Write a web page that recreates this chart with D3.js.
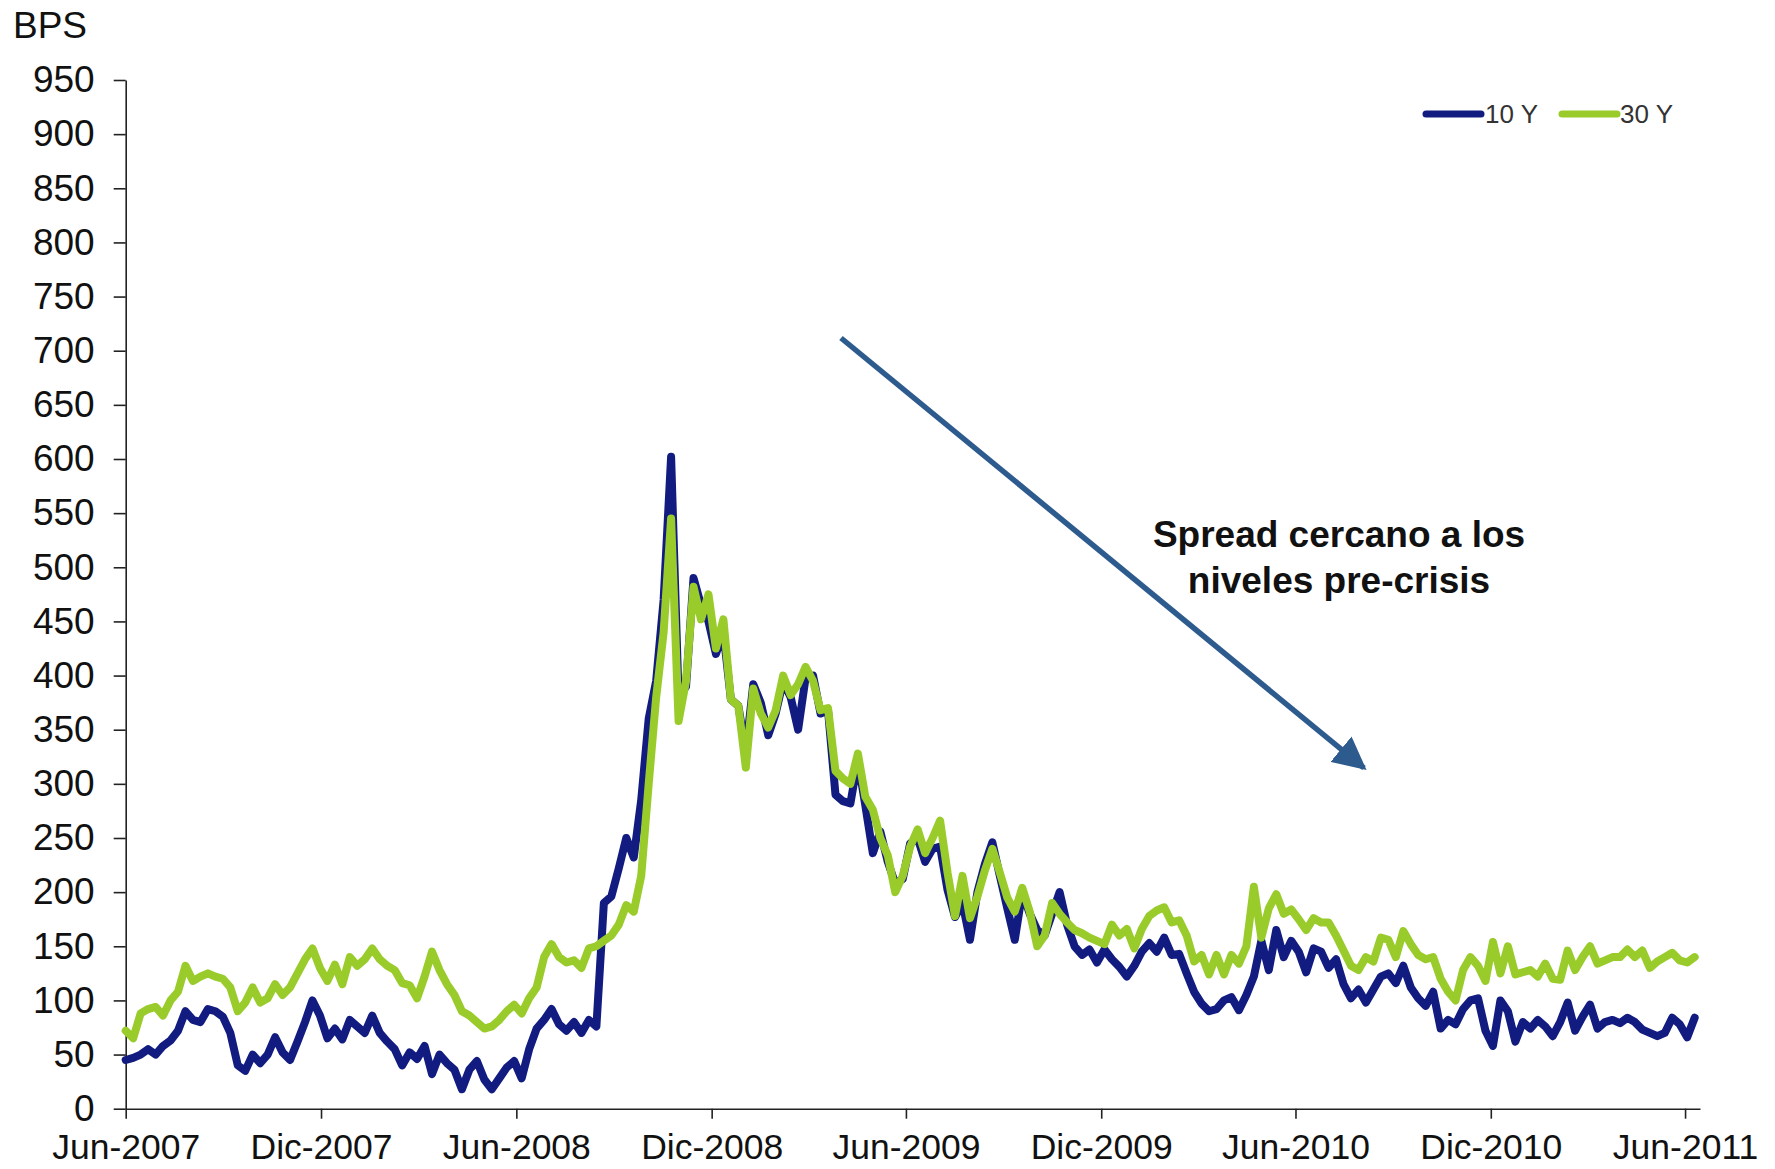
<!DOCTYPE html>
<html>
<head>
<meta charset="utf-8">
<script src="https://cdn.jsdelivr.net/npm/d3@7"></script>
<style>
  html, body { margin: 0; padding: 0; background: #ffffff; }
  svg { display: block; font-family: "Liberation Sans", Arial, sans-serif; }
</style>
</head>
<body>
<svg id="chart" width="1775" height="1169"></svg>
<script>
// ---- DATA (weekly observations, starting 1 Jun 2007) ----
const seriesNames = ["10 Y", "30 Y"];
const seriesColors = ["#111b80", "#99cc2b"];
const firstWeek = "2007-06-01";

const spread10Y = [
  45, 47, 50, 55, 50, 58, 63, 72, 90, 82, 80, 92, 90, 85, 70, 40, 35, 50, 42, 50,
  66, 52, 45, 62, 80, 100, 86, 65, 74, 64, 82, 76, 70, 86, 70, 62, 55, 40, 52, 46,
  58, 32, 50, 42, 36, 18, 36, 44, 27, 18, 28, 38, 44, 28, 55, 74, 82, 92, 78, 72,
  80, 70, 82, 76, 190, 196, 222, 250, 232, 285, 360, 395, 470, 602, 380, 390, 490, 465, 450, 420,
  440, 378, 372, 330, 392, 375, 345, 365, 395, 380, 350, 398, 400, 365, 368, 290, 284, 282, 322, 280,
  236, 256, 228, 208, 212, 245, 250, 228, 240, 242, 202, 177, 190, 156, 200, 226, 246, 215, 185, 156,
  200, 180, 165, 160, 180, 200, 170, 150, 142, 147, 135, 147, 138, 131, 122, 132, 145, 153, 145, 158,
  142, 143, 125, 108, 97, 90, 92, 100, 103, 91, 105, 122, 155, 128, 165, 140, 155, 145, 126, 148,
  145, 130, 138, 115, 102, 110, 98, 110, 122, 125, 116, 132, 112, 102, 95, 108, 74, 82, 78, 92,
  100, 102, 72, 58, 100, 90, 62, 80, 74, 82, 76, 67, 80, 98, 72, 85, 96, 74, 80, 82,
  79, 84, 80, 73, 70, 67, 70, 84, 78, 66, 84
];

const spread30Y = [
  72, 65, 88, 92, 94, 86, 100, 108, 132, 118, 122, 125, 122, 120, 112, 90, 98, 112, 98, 102,
  115, 105, 112, 125, 138, 148, 130, 118, 133, 115, 140, 132, 138, 148, 138, 132, 128, 116, 114, 102,
  122, 145, 128, 115, 105, 90, 86, 80, 74, 76, 82, 90, 96, 88, 102, 112, 140, 152, 140, 135,
  137, 130, 148, 150, 155, 160, 170, 188, 182, 215, 300, 380, 440, 545, 358, 395, 482, 452, 475, 425,
  452, 378, 372, 315, 388, 365, 352, 368, 400, 382, 392, 408, 395, 368, 370, 312, 305, 300, 328, 288,
  276, 250, 234, 200, 215, 242, 258, 236, 250, 266, 218, 178, 215, 176, 196, 220, 240, 218, 195, 182,
  204, 182, 150, 160, 190, 180, 172, 165, 162, 158, 155, 152, 170, 160, 166, 148, 166, 178, 183, 186,
  172, 174, 160, 136, 142, 124, 142, 124, 142, 134, 150, 205, 158, 185, 198, 180, 184, 175, 165, 176,
  172, 172, 160, 146, 132, 128, 140, 136, 158, 156, 140, 164, 152, 142, 138, 140, 120, 108, 100, 128,
  140, 132, 118, 154, 125, 150, 124, 126, 128, 122, 134, 120, 119, 146, 128, 140, 150, 134, 137, 140,
  140, 147, 140, 146, 130, 136, 140, 144, 137, 135, 140
];

const yTickValues = [0, 50, 100, 150, 200, 250, 300, 350, 400, 450, 500, 550, 600, 650, 700, 750, 800, 850, 900, 950];
const xTickDates = ["2007-06-01", "2007-12-01", "2008-06-01", "2008-12-01", "2009-06-01", "2009-12-01", "2010-06-01", "2010-12-01", "2011-06-01"];
const xTickLabels = ["Jun-2007", "Dic-2007", "Jun-2008", "Dic-2008", "Jun-2009", "Dic-2009", "Jun-2010", "Dic-2010", "Jun-2011"];
const xDomain = ["2007-06-01", "2011-06-15"];
const yDomain = [0, 950];
const unitLabel = "BPS";
const annotationLines = ["Spread cercano a los", "niveles pre-crisis"];

(function () {
// ---- LAYOUT ----
const parse = d3.timeParse("%Y-%m-%d");
const svg = d3.select("#chart");
const plotLeft = 125.7, plotRight = 1700, plotTop = 80, plotBottom = 1108.7;

const x = d3.scaleTime().domain(xDomain.map(parse)).range([plotLeft, plotRight]);
const y = d3.scaleLinear().domain(yDomain).range([plotBottom, plotTop]);

const start = parse(firstWeek);
const makeRows = vals => vals.map((v, i) => ({ date: d3.timeDay.offset(start, 7 * i), value: v }));
const rows = [makeRows(spread10Y), makeRows(spread30Y)];

// ---- AXES ----
const yAxis = d3.axisLeft(y).tickValues(yTickValues).tickSize(12).tickPadding(19).tickSizeOuter(0);
const gy = svg.append("g").attr("transform", `translate(${plotLeft},0)`).call(yAxis);
gy.selectAll("text").attr("font-size", 37).attr("fill", "#111").attr("font-family", "Liberation Sans, Arial, sans-serif");

const xAxis = d3.axisBottom(x)
  .tickValues(xTickDates.map(parse))
  .tickFormat((d, i) => xTickLabels[i])
  .tickSize(10).tickPadding(15).tickSizeOuter(0);
const gx = svg.append("g").attr("transform", `translate(0,${plotBottom})`).call(xAxis);
gx.selectAll("text").attr("font-size", 35.5).attr("fill", "#111").attr("font-family", "Liberation Sans, Arial, sans-serif");

[gx, gy].forEach(g => {
  g.select(".domain").attr("stroke", "#222").attr("stroke-width", 1.6);
  g.selectAll(".tick line").attr("stroke", "#222").attr("stroke-width", 1.6);
});

// ---- LINES ----
const line = d3.line().x(d => x(d.date)).y(d => y(d.value)).curve(d3.curveLinear);
rows.forEach((r, i) => {
  svg.append("path")
    .datum(r)
    .attr("fill", "none")
    .attr("stroke", seriesColors[i])
    .attr("stroke-width", 8)
    .attr("stroke-linejoin", "round")
    .attr("stroke-linecap", "round")
    .attr("d", line);
});

// ---- UNIT LABEL ----
svg.append("text").attr("x", 13).attr("y", 38).attr("font-size", 37).attr("fill", "#111").text(unitLabel);

// ---- LEGEND ----
const legendItems = [
  { x1: 1426, x2: 1481, tx: 1485 },
  { x1: 1562, x2: 1617, tx: 1620 }
];
legendItems.forEach((p, i) => {
  svg.append("line").attr("x1", p.x1).attr("x2", p.x2).attr("y1", 114).attr("y2", 114)
    .attr("stroke", seriesColors[i]).attr("stroke-width", 7).attr("stroke-linecap", "round");
  svg.append("text").attr("x", p.tx).attr("y", 123).attr("font-size", 26).attr("fill", "#333").text(seriesNames[i]);
});

// ---- ARROW + ANNOTATION ----
const defs = svg.append("defs");
defs.append("marker").attr("id", "ah").attr("viewBox", "0 0 10 10").attr("refX", 9).attr("refY", 5)
  .attr("markerWidth", 6).attr("markerHeight", 6).attr("markerUnits", "strokeWidth").attr("orient", "auto")
  .append("path").attr("d", "M0,0 L10,5 L0,10 Z").attr("fill", "#2e5b8e");
svg.append("line").attr("x1", 841).attr("y1", 338).attr("x2", 1364).attr("y2", 768)
  .attr("stroke", "#2e5b8e").attr("stroke-width", 5.5).attr("marker-end", "url(#ah)");

const ann = svg.append("text").attr("text-anchor", "middle").attr("font-size", 37).attr("font-weight", "bold").attr("fill", "#111");
annotationLines.forEach((t, i) => {
  ann.append("tspan").attr("x", 1339).attr("y", 547 + i * 46).text(t);
});
})();
</script>
</body>
</html>
